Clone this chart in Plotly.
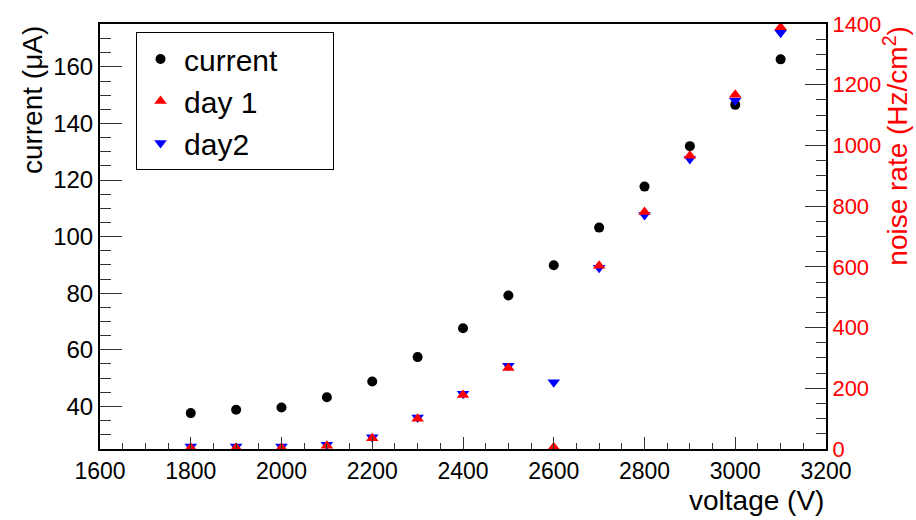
import plotly.graph_objects as go

voltage = [1800, 1900, 2000, 2100, 2200, 2300, 2400, 2500, 2600, 2700, 2800, 2900, 3000, 3100]
current = [37.6, 38.8, 39.6, 43.2, 48.8, 57.4, 67.6, 79.2, 89.9, 103.2, 117.7, 132.0, 146.6, 162.7]
noise_day1 = [4, 4, 4, 11, 35, 100, 178, 267, 6, 604, 781, 966, 1167, 1389]
noise_day2 = [8, 8, 8, 14, 39, 104, 182, 274, 220, 597, 771, 955, 1148, 1371]
legend_names = ["current", "day 1", "day2"]

FONT = "Liberation Sans, Arial, Helvetica, sans-serif"
PAD = "\u00a0" * 6  # widen the legend box like the reference

fig = go.Figure()
fig.add_trace(go.Scatter(x=voltage, y=current, mode="markers", name=legend_names[0] + PAD,
                         marker=dict(symbol="circle", size=10, color="black"),
                         legendrank=1, yaxis="y"))
fig.add_trace(go.Scatter(x=voltage, y=noise_day2, mode="markers", name=legend_names[2],
                         marker=dict(symbol="triangle-down", size=11, color="#0000ff"),
                         legendrank=3, yaxis="y2"))
fig.add_trace(go.Scatter(x=voltage, y=noise_day1, mode="markers", name=legend_names[1],
                         marker=dict(symbol="triangle-up", size=11, color="#ff0000"),
                         legendrank=2, yaxis="y2"))

fig.update_layout(
    width=916, height=520,
    margin=dict(l=100, r=90, t=20, b=71),
    paper_bgcolor="white", plot_bgcolor="white",
    font=dict(family=FONT, size=22, color="black"),
    showlegend=True,
    legend=dict(x=0.0496, y=0.981, xanchor="left", yanchor="top",
                bordercolor="black", borderwidth=1, bgcolor="white",
                font=dict(size=30), itemwidth=37),
    xaxis=dict(range=[1600, 3200], dtick=200, tick0=1600,
               showgrid=False, zeroline=False,
               showline=True, linecolor="black", linewidth=2, mirror=True,
               ticks="inside", ticklen=12, tickwidth=1, tickcolor="#333",
               minor=dict(dtick=50, ticks="inside", ticklen=6, tickwidth=1, tickcolor="#333"),
               tickfont=dict(size=23)),
    yaxis=dict(range=[24.9, 175.2], dtick=20, tick0=40,
               showgrid=False, zeroline=False,
               showline=True, linecolor="black", linewidth=2, mirror=True,
               ticks="inside", ticklen=22, tickwidth=1, tickcolor="#333",
               minor=dict(dtick=5, ticks="inside", ticklen=11, tickwidth=1, tickcolor="#333"),
               tickfont=dict(size=24)),
    yaxis2=dict(range=[0, 1400], dtick=200, tick0=0, overlaying="y", side="right",
                showgrid=False, zeroline=False,
                showline=True, linecolor="black", linewidth=2,
                ticks="inside", ticklen=21, tickwidth=1, tickcolor="#333",
                minor=dict(dtick=50, ticks="inside", ticklen=10, tickwidth=1, tickcolor="#333"),
                tickfont=dict(size=22, color="#ff0000")),
    annotations=[
        dict(text="voltage (V)", xref="paper", yref="paper", x=1.0, y=-0.12,
             xanchor="right", yanchor="middle", showarrow=False,
             font=dict(size=28, color="black")),
        dict(text="current (\u03bcA)", xref="paper", yref="paper", x=-0.0935, y=1.0,
             xanchor="center", yanchor="top", textangle=-90, showarrow=False,
             font=dict(size=28, color="black")),
        dict(text="noise rate (Hz/cm<sup>2</sup>)", xref="paper", yref="paper", x=1.096, y=1.0,
             xanchor="center", yanchor="top", textangle=-90, showarrow=False,
             font=dict(size=28, color="#ff0000")),
    ],
)

fig.write_html("out.html")
